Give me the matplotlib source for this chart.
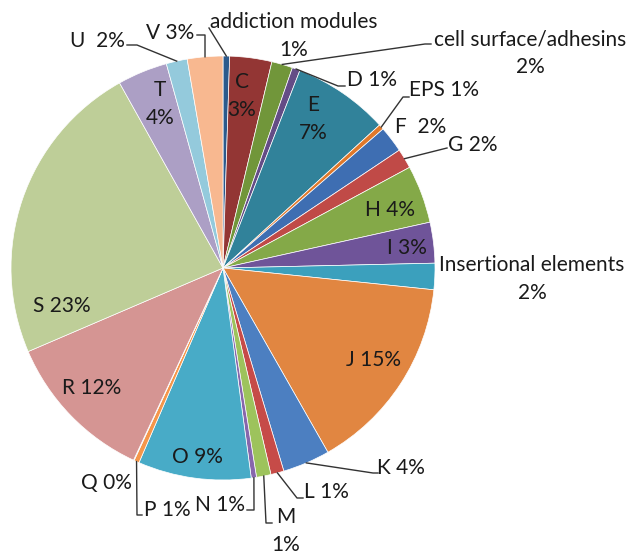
import matplotlib
matplotlib.use("Agg")
import matplotlib.pyplot as plt
import numpy as np

# functional categories, clockwise from 12 o'clock
categories = ["addiction modules", "C", "cell surface/adhesins", "D", "E", "EPS",
              "F", "G", "H", "I", "Insertional elements", "J", "K", "L", "M",
              "N", "O", "P", "Q", "R", "S", "T", "U", "V"]
shares = [0.5, 3.2, 1.6, 0.6, 7.3, 0.4, 2.0, 1.5, 4.4, 3.1, 2.0, 15.1,
          3.6, 1.0, 1.1, 0.4, 8.6, 0.4, 0.05, 11.6, 23.3, 3.8, 1.6, 2.7]
pct_labels = ["1%", "3%", "2%", "1%", "7%", "1%", "2%", "2%", "4%", "3%",
              "2%", "15%", "4%", "1%", "1%", "1%", "9%", "1%", "0%", "12%",
              "23%", "4%", "2%", "3%"]

colors = ["#2C5A8C", "#933634", "#71963A", "#644C86", "#31829A", "#E0782A",
          "#3E6EB2", "#C04A47", "#84A948", "#6F5499", "#3BA0BD", "#E18641",
          "#4C7FC1", "#C64B48", "#9DC35C", "#8766AC", "#48ABC7", "#F5964A",
          "#95B3D7", "#D59593", "#BECE98", "#AC9FC5", "#94CADC", "#F8B890"]

# label layout in image pixels: separator, text centre, leader bend points
CX, CY, R = 223, 268, 212
W, H = 632, 556
layout = {
    "addiction modules": ("\n", (294, 36), [(209, 28)]),
    "C": ("\n", (242, 96), None),
    "cell surface/adhesins": ("\n", (530, 53), [(425, 44), (431, 44)]),
    "D": (" ", (372, 80), [(338, 86), (345, 86)]),
    "E": ("\n", (313, 119), None),
    "EPS": (" ", (444, 90), [(403, 97), (409, 97)]),
    "F": ("  ", (421, 127), None),
    "G": (" ", (473, 145), [(447, 148)]),
    "H": (" ", (390, 210), None),
    "I": (" ", (407, 248), None),
    "Insertional elements": ("\n", (532, 279), None),
    "J": (" ", (373, 360), None),
    "K": (" ", (401, 468), [(373, 473), (378, 473)]),
    "L": (" ", (326, 492), [(297, 498), (303, 498)]),
    "M": ("\n", (286, 531), [(266, 523), (272, 523)]),
    "N": (" ", (220, 505), [(254, 510), (247, 510)]),
    "O": (" ", (197, 457), None),
    "P": (" ", (167, 510), [(137, 515), (142, 515)]),
    "Q": (" ", (106, 483), None),
    "R": (" ", (92, 388), None),
    "S": (" ", (62, 306), None),
    "T": ("\n", (160, 104), None),
    "U": ("  ", (97, 41), [(137, 45), (127, 45)]),
    "V": (" ", (170, 33), [(205, 35), (197, 35)]),
}


def px(x, y):
    return (x - CX) / R, (CY - y) / R


plt.rcParams['font.family'] = ['Lato', 'DejaVu Sans']

fig = plt.figure(figsize=(W / 100, H / 100), dpi=100)
ax = fig.add_axes([0, 0, 1, 1])
wedges, _ = ax.pie(shares, colors=colors, startangle=90, counterclock=False,
                   radius=1, center=(0, 0),
                   wedgeprops=dict(edgecolor='white', linewidth=0.5))
ax.set_xlim(px(0, 0)[0], px(W, 0)[0])
ax.set_ylim(px(0, H)[1], px(0, 0)[1])
ax.set_aspect('auto')
ax.axis('off')

for w, cat, pct in zip(wedges, categories, pct_labels):
    sep, pos, bends = layout[cat]
    tx, ty = px(*pos)
    ax.text(tx, ty, cat + sep + pct, ha='center', va='center', fontsize=15,
            color='#1a1a1a', linespacing=1.5)
    if bends:
        ang = np.deg2rad((w.theta1 + w.theta2) / 2)
        xs = [np.cos(ang)] + [px(*b)[0] for b in bends]
        ys = [np.sin(ang)] + [px(*b)[1] for b in bends]
        ax.plot(xs, ys, color='#333333', lw=1)

fig.savefig("out.png", dpi=100)
